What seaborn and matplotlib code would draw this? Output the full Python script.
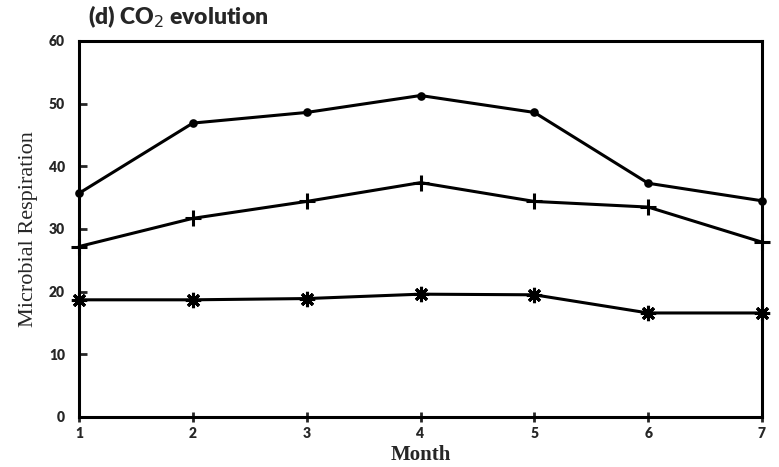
import matplotlib
matplotlib.use("Agg")
import matplotlib.pyplot as plt
import seaborn as sns
import pandas as pd

months = [1, 2, 3, 4, 5, 6, 7]
series_top = [35.7, 46.9, 48.6, 51.3, 48.6, 37.3, 34.5]
series_mid = [27.2, 31.7, 34.4, 37.4, 34.4, 33.5, 27.9]
series_low = [18.7, 18.7, 18.9, 19.6, 19.5, 16.6, 16.6]
series_names = ["A", "B", "C"]
y_ticks = [0, 10, 20, 30, 40, 50, 60]

rows = []
for name, vals in zip(series_names, [series_top, series_mid, series_low]):
    for m, v in zip(months, vals):
        rows.append({"Month": m, "Value": v, "Series": name})
df = pd.DataFrame(rows)

sns.set_style("white")
fig = plt.figure(figsize=(7.79, 4.67), dpi=100)
ax = fig.add_axes([79 / 779, 1 - 417 / 467, (762 - 79) / 779, (417 - 41) / 467])

markers = {"A": "o", "B": "+", "C": (8, 2, 0)}
sizes = {"A": 4, "B": 12, "C": 11}
for name in series_names:
    sub = df[df["Series"] == name]
    sns.lineplot(data=sub, x="Month", y="Value", ax=ax, color="black",
                 linewidth=2.2, marker=markers[name], markersize=sizes[name],
                 markeredgewidth=2.2, markeredgecolor="black", clip_on=False,
                 legend=False)

ax.set_xlim(1, 7)
ax.set_ylim(0, 60)
ax.set_xticks(months)
ax.set_yticks(y_ticks)
for s in ax.spines.values():
    s.set_visible(True)
    s.set_color("black")
    s.set_linewidth(2.2)

ax.tick_params(axis="x", direction="inout", length=7, width=2, pad=4, bottom=True)
ax.tick_params(axis="y", direction="in", length=6, width=2, pad=10, left=True)
for lab in ax.get_xticklabels() + ax.get_yticklabels():
    lab.set_fontfamily("Lato")
    lab.set_fontweight("heavy")
    lab.set_fontsize(10)

ax.set_xlabel("Month", fontfamily="Liberation Serif", fontweight="bold",
              fontsize=15, labelpad=3)
ax.set_ylabel("Microbial Respiration", fontfamily="Liberation Serif",
              fontsize=16, labelpad=8)
fig.text(88 / 779, 1 - 24 / 467, r"(d) CO$_2$ evolution", fontfamily="Lato",
         fontweight="heavy", fontsize=16.5, ha="left", va="baseline")

fig.savefig("out.png", dpi=100, facecolor="white")
